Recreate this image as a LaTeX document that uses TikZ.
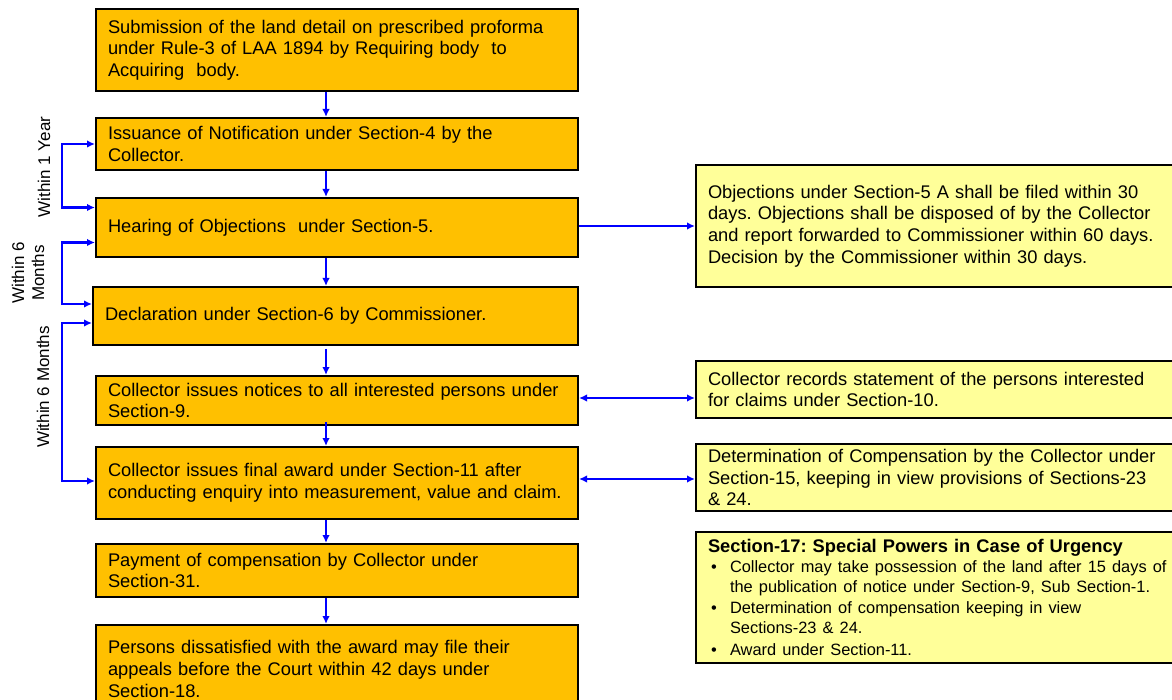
\documentclass[tikz,border=0pt]{standalone}
\usepackage{fontspec}
\setmainfont{Liberation Sans}
\usetikzlibrary{arrows.meta,calc}
\frenchspacing
\definecolor{orbox}{HTML}{FFC000}
\definecolor{yebox}{HTML}{FFFF99}
\definecolor{arrblue}{HTML}{0000FF}
\newcommand\mainsz{\fontsize{18.3}{21.6}\selectfont}
\newcommand\bulsz{\fontsize{16.4}{20.5}\selectfont}
\newcommand\lblsz{\fontsize{17}{20}\selectfont}
\newcommand\bul{\makebox[22pt][l]{\hspace{3pt}\textbullet}}
\tikzset{
  obox/.style={draw=black, line width=2pt, fill=orbox, rectangle, anchor=west,
    inner xsep=12pt, inner ysep=0pt, align=left, font=\mainsz},
  ybox/.style={draw=black, line width=2pt, fill=yebox, rectangle, anchor=west,
    inner xsep=12pt, inner ysep=0pt, align=left, font=\mainsz,
    minimum width=495pt, text width=471pt},
  flow/.style={draw=arrblue, line width=2.2pt, -{Latex[length=8pt,width=7.5pt]}},
  both/.style={draw=arrblue, line width=2.2pt, {Latex[length=8pt,width=7.5pt]}-{Latex[length=8pt,width=7.5pt]}},
  lbl/.style={rotate=90, font=\lblsz, align=center, inner sep=0pt}
}
\begin{document}
\begin{tikzpicture}[x=1pt,y=-1pt]
\useasboundingbox (0,0) rectangle (1172,700);
\clip (0,0) rectangle (1172,700);
% main column
\node[obox, minimum width=482pt, text width=458pt, minimum height=82pt] (b1) at (95,50)
  {Submission of the land detail on prescribed proforma\\under Rule-3 of LAA 1894 by Requiring body\ \ to\\Acquiring\ \ body.};
\node[obox, minimum width=482pt, text width=458pt, minimum height=52pt] (b2) at (95,144)
  {Issuance of Notification under Section-4 by the\\Collector.};
\node[obox, minimum width=482pt, text width=458pt, minimum height=59pt] (b3) at (95,227.5)
  {Hearing of Objections\ \ under Section-5.};
\node[obox, minimum width=485pt, text width=461pt, minimum height=58pt] (b4) at (92,316)
  {Declaration under Section-6 by Commissioner.};
\node[obox, minimum width=482pt, text width=458pt, minimum height=49pt] (b5) at (95,400.5)
  {Collector issues notices to all interested persons under\\Section-9.};
\node[obox, minimum width=482pt, text width=458pt, minimum height=72pt] (b6) at (95,483)
  {Collector issues final award under Section-11 after\\conducting enquiry into measurement, value and claim.};
\node[obox, minimum width=482pt, text width=458pt, minimum height=53pt] (b7) at (95,570.5)
  {Payment of compensation by Collector under\\Section-31.};
\node[obox, minimum width=482pt, text width=458pt, minimum height=88pt] (b8) at (95,669)
  {Persons dissatisfied with the award may file their\\appeals before the Court within 42 days under\\Section-18.};
% side boxes
\node[ybox, minimum height=122pt] (y1) at (695,226)
  {Objections under Section-5 A shall be filed within 30\\days. Objections shall be disposed of by the Collector\\and report forwarded to Commissioner within 60 days.\\Decision by the Commissioner within 30 days.};
\node[ybox, minimum height=57pt] (y2) at (695,389.5)
  {Collector records statement of the persons interested\\for claims under Section-10.};
\node[ybox, minimum height=67pt] (y3) at (695,477.5)
  {Determination of Compensation by the Collector under\\Section-15, keeping in view provisions of Sections-23\\\& 24.};
\node[ybox, minimum height=131pt] (y4) at (695,597.5)
  {{\bfseries Section-17: Special Powers in Case of Urgency}\\[-1pt]
   {\bulsz\bul Collector may take possession of the land after 15 days of\\
   \hspace*{22pt}the publication of notice under Section-9, Sub Section-1.\\
   \bul Determination of compensation keeping in view\\
   \hspace*{22pt}Sections-23 \& 24.\\
   \bul Award under Section-11.}};
% vertical flow arrows
\coordinate (ax) at (326,0);
\draw[flow] (b1.south -| ax) -- (b2.north -| ax);
\draw[flow] (b2.south -| ax) -- (b3.north -| ax);
\draw[flow] (b3.south -| ax) -- (b4.north -| ax);
\draw[flow] ($(b4.south -| ax)+(0,3)$) -- (b5.north -| ax);
\draw[flow] ($(b5.south -| ax)+(0,-4)$) -- (b6.north -| ax);
\draw[flow] (b6.south -| ax) -- (b7.north -| ax);
\draw[flow] (b7.south -| ax) -- (b8.north -| ax);
% horizontal arrows
\draw[flow] ($(b3.east)+(0,-1.5)$) -- ($(b3.east -| y1.west)+(0,-1.5)$);
\draw[both] ($(b5.east)+(0,-2.5)$) -- ($(b5.east -| y2.west)+(0,-2.5)$);
\draw[both] ($(b6.east)+(0,-4)$) -- ($(b6.east -| y3.west)+(0,-4)$);
% brackets
\coordinate (bx) at (62,0);
\coordinate (p2) at (b2.west);
\coordinate (p3a) at ($(b3.west)+(0,-20)$);
\coordinate (p3b) at ($(b3.west)+(0,15)$);
\coordinate (p4a) at ($(b4.west)+(0,-12)$);
\coordinate (p4b) at ($(b4.west)+(0,7)$);
\coordinate (p6) at ($(b6.west)+(0,-2)$);
\draw[both] (p2) -- (p2 -| bx) -- (p3a -| bx) -- (p3a);
\draw[both] (p3b) -- (p3b -| bx) -- (p4a -| bx) -- (p4a);
\draw[both] (p4b) -- (p4b -| bx) -- (p6 -| bx) -- (p6);
% labels
\node[lbl] (l1) at (44,167) {Within 1 Year};
\node[lbl] (l2) at (28,273) {Within 6\\Months};
\node[lbl] (l3) at (43,387) {Within 6 Months};
\end{tikzpicture}
\end{document}
